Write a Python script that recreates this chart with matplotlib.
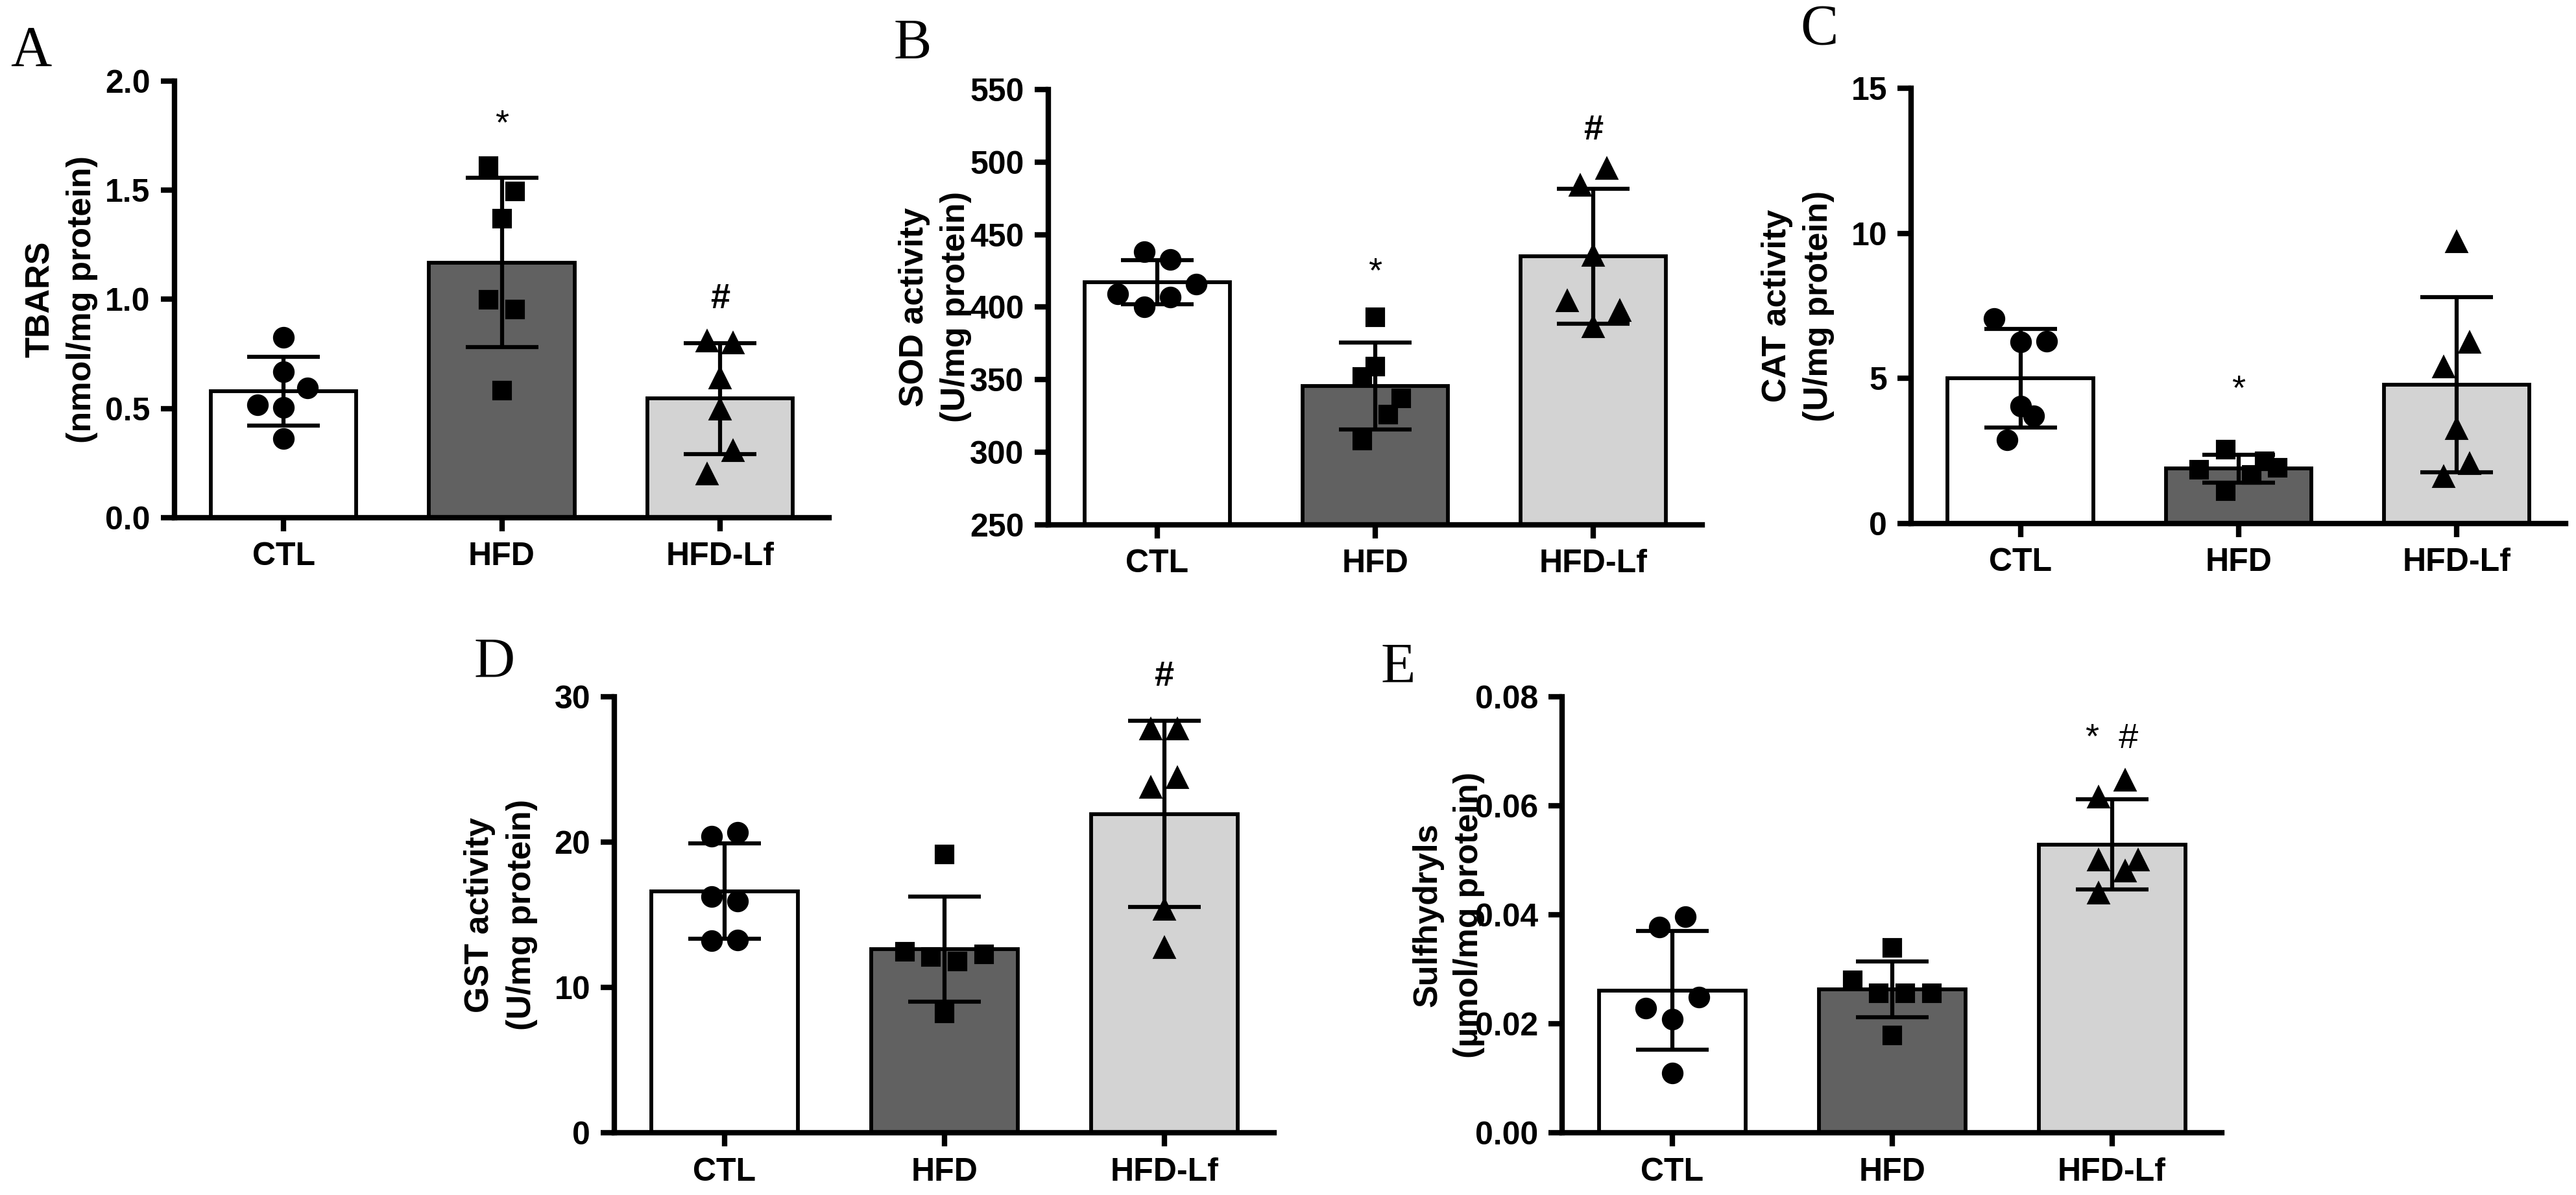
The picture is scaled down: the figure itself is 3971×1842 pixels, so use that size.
import matplotlib.pyplot as plt
import numpy as np

groups = ['CTL', 'HFD', 'HFD-Lf']
bar_colors = ['white', '#616161', '#d3d3d3']
markers = ['o', 's', '^']

# A - TBARS
tbars_mean = [0.578, 1.169, 0.545]
tbars_sd = [0.158, 0.389, 0.254]
tbars_pts = [[0.826, 0.668, 0.595, 0.515, 0.504, 0.361],
             [1.612, 1.496, 1.369, 0.997, 0.954, 0.581],
             [0.809, 0.800, 0.638, 0.496, 0.304, 0.198]]

# B - SOD
sod_mean = [417.0, 345.6, 435.0]
sod_sd = [15.2, 29.8, 46.4]
sod_pts = [[438.0, 432.9, 416.0, 409.3, 406.7, 400.0],
           [393.1, 359.2, 352.0, 337.3, 325.8, 307.8],
           [495.3, 483.8, 435.5, 404.1, 397.7, 386.1]]

# C - CAT
cat_mean = [5.01, 1.89, 4.78]
cat_sd = [1.70, 0.48, 3.02]
cat_pts = [[7.06, 6.25, 6.29, 4.05, 3.72, 2.89],
           [2.54, 2.14, 1.91, 1.86, 1.67, 1.12],
           [9.70, 6.23, 5.39, 3.27, 2.05, 1.61]]

# D - GST
gst_mean = [16.63, 12.64, 21.94]
gst_sd = [3.29, 3.60, 6.42]
gst_pts = [[20.39, 20.65, 16.27, 15.94, 13.22, 13.27],
           [19.15, 12.46, 12.26, 12.08, 11.77, 8.21],
           [27.77, 27.77, 24.41, 23.77, 15.38, 12.71]]

# E - Sulfhydryls
sh_mean = [0.0261, 0.0263, 0.0529]
sh_sd = [0.0109, 0.0051, 0.0083]
sh_pts = [[0.0397, 0.0378, 0.0249, 0.0229, 0.0208, 0.0110],
          [0.0339, 0.0280, 0.0256, 0.0256, 0.0256, 0.0179],
          [0.0646, 0.0615, 0.0500, 0.0500, 0.0480, 0.0439]]

# horizontal scatter of the dots (layout only)
jit_A = [[0, 0, 0.11, -0.12, 0, 0], [-0.06, 0.06, 0, -0.06, 0.06, 0], [-0.06, 0.06, 0, 0, 0.06, -0.06]]
jit_B = [[-0.06, 0.06, 0.18, -0.18, 0.06, -0.06], [0, 0, -0.06, 0.12, 0.06, -0.06], [0.06, -0.06, 0, -0.12, 0.12, 0]]
jit_C = [[-0.12, 0, 0.12, 0, 0.06, -0.06], [-0.06, 0.12, 0.18, -0.18, 0.06, -0.06], [0, 0.06, -0.06, 0, 0.06, -0.06]]
jit_D = [[-0.06, 0.06, -0.06, 0.06, -0.06, 0.06], [0, -0.18, 0.18, -0.06, 0.06, 0], [-0.06, 0.06, 0.06, -0.06, 0, 0]]
jit_E = [[0.06, -0.06, 0.12, -0.12, 0, 0], [0, -0.18, -0.06, 0.06, 0.18, 0], [0.06, -0.06, -0.06, 0.12, 0.06, -0.06]]

plt.rcParams['font.family'] = ['Liberation Sans', 'DejaVu Sans']

fig = plt.figure(figsize=(3971 / 300, 1842 / 300), dpi=300)

panels = [
    ('A', [0.0678, 0.567, 0.254, 0.365], (0.004, 0.957), tbars_mean, tbars_sd, tbars_pts, jit_A,
     'TBARS\n(nmol/mg protein)', (0, 2.0), np.arange(0, 2.01, 0.5), '{:.1f}',
     [(1, 1.80, '*'), (2, 1.00, '#')]),
    ('B', [0.4069, 0.561, 0.254, 0.364], (0.347, 0.963), sod_mean, sod_sd, sod_pts, jit_B,
     'SOD activity\n(U/mg protein)', (250, 550), np.arange(250, 551, 50), '{:.0f}',
     [(1, 424, '*'), (2, 522, '#')]),
    ('C', [0.742, 0.562, 0.254, 0.364], (0.699, 0.975), cat_mean, cat_sd, cat_pts, jit_C,
     'CAT activity\n(U/mg protein)', (0, 15), np.arange(0, 16, 5), '{:.0f}',
     [(1, 4.6, '*')]),
    ('D', [0.2386, 0.052, 0.256, 0.365], (0.184, 0.445), gst_mean, gst_sd, gst_pts, jit_D,
     'GST activity\n(U/mg protein)', (0, 30), np.arange(0, 31, 10), '{:.0f}',
     [(2, 31.4, '#')]),
    ('E', [0.6065, 0.052, 0.256, 0.365], (0.536, 0.441), sh_mean, sh_sd, sh_pts, jit_E,
     'Sulfhydryls\n(\u00b5mol/mg protein)', (0, 0.08), np.arange(0, 0.081, 0.02), '{:.2f}',
     [(2, 0.0722, '*  #')]),
]

x = np.arange(len(groups))
for letter, rect, lpos, mean, sd, pts, jit, ylabel, ylim, yticks, fmt, notes in panels:
    ax = fig.add_axes(rect)
    ax.bar(x, np.array(mean) - ylim[0], bottom=ylim[0], width=0.667, color=bar_colors,
           edgecolor='black', linewidth=1.4, zorder=1)
    ax.errorbar(x, mean, yerr=sd, fmt='none', ecolor='black', elinewidth=1.5,
                capsize=13.5, capthick=1.5, zorder=2)
    for i in range(len(groups)):
        ax.plot(x[i] + np.array(jit[i]), pts[i], linestyle='none', marker=markers[i],
                markersize=6.3 if markers[i] == 's' else 7, color='black', zorder=3)
    for gi, yv, s in notes:
        ax.text(gi, yv, s, ha='center', va='center', fontsize=13,
                fontweight='bold' if s == '#' else 'normal')
    ax.set_xlim(-0.5, 2.5)
    ax.set_ylim(*ylim)
    ax.set_yticks(yticks)
    ax.set_yticklabels([fmt.format(v) for v in yticks], fontsize=12, fontweight='bold')
    ax.set_xticks(x)
    ax.set_xticklabels(groups, fontsize=12, fontweight='bold')
    ax.set_ylabel(ylabel, fontsize=12.5, fontweight='bold', linespacing=1.4)
    ax.yaxis.set_label_coords(-0.117, 0.5)
    for side in ['top', 'right']:
        ax.spines[side].set_visible(False)
    for side in ['left', 'bottom']:
        ax.spines[side].set_linewidth(2.0)
    ax.tick_params(width=2.0, length=5, pad=4)
    fig.text(lpos[0], lpos[1], letter, family='Liberation Serif', fontsize=21,
             ha='left', va='center')

fig.savefig('out.png', dpi=300)
